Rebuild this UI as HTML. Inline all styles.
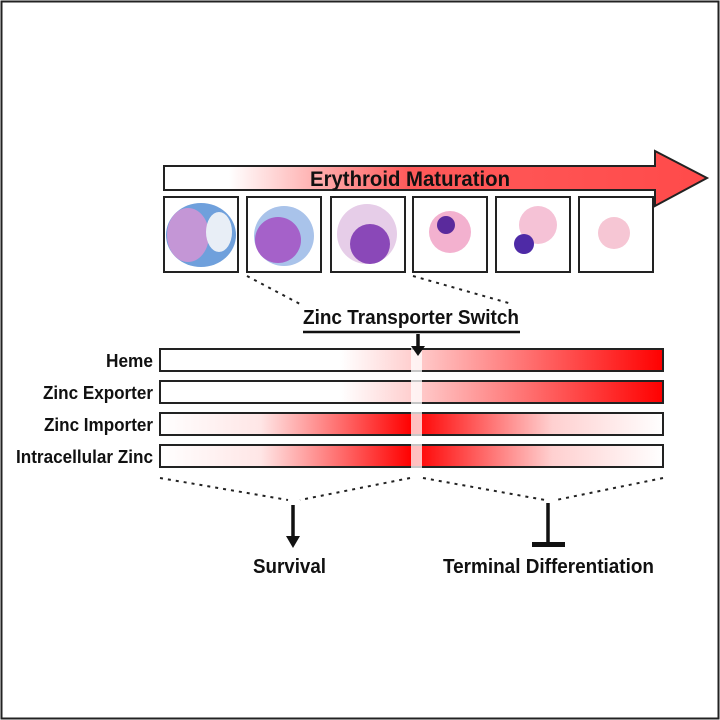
<!DOCTYPE html>
<html><head><meta charset="utf-8"><style>
html,body{margin:0;padding:0;background:#fff;}
svg{display:block;}
text{font-family:"Liberation Sans",sans-serif;font-weight:bold;fill:#111;}
</style></head><body>
<svg width="720" height="720" viewBox="0 0 720 720" xmlns="http://www.w3.org/2000/svg">
<defs>
<linearGradient id="top" x1="164" x2="707" y1="0" y2="0" gradientUnits="userSpaceOnUse">
<stop offset="0" stop-color="#fff"/><stop offset="0.12" stop-color="#fff"/><stop offset="0.45" stop-color="#ff5a5a"/><stop offset="1" stop-color="#ff4a4a"/></linearGradient>
<linearGradient id="up" x1="160" x2="663" y1="0" y2="0" gradientUnits="userSpaceOnUse">
<stop offset="0" stop-color="#fff"/><stop offset="0.36" stop-color="#fff"/><stop offset="0.52" stop-color="#ffc8c8"/><stop offset="1" stop-color="#ff0000"/></linearGradient>
<linearGradient id="mid" x1="160" x2="663" y1="0" y2="0" gradientUnits="userSpaceOnUse">
<stop offset="0" stop-color="#fff"/><stop offset="0.2" stop-color="#ffe6e6"/><stop offset="0.5" stop-color="#ff0000"/><stop offset="0.54" stop-color="#ff1a1a"/><stop offset="0.78" stop-color="#ffd0d0"/><stop offset="1" stop-color="#fff"/></linearGradient>
</defs>
<rect x="1.5" y="1.5" width="717" height="717" fill="#fff" stroke="#222" stroke-width="2"/>
<polygon points="164,166 655,166 655,151 707,178 655,206 655,190 164,190" fill="url(#top)" stroke="#222" stroke-width="2"/>
<text x="310" y="186" font-size="21" textLength="200" lengthAdjust="spacingAndGlyphs">Erythroid Maturation</text>
<g stroke="#222" stroke-width="2" fill="#fff">
<rect x="164" y="197" width="74" height="75"/><rect x="247" y="197" width="74" height="75"/><rect x="331" y="197" width="74" height="75"/>
<rect x="413" y="197" width="74" height="75"/><rect x="496" y="197" width="74" height="75"/><rect x="579" y="197" width="74" height="75"/>
</g>
<ellipse cx="201" cy="235" rx="35" ry="32" fill="#6fa0dc"/>
<ellipse cx="188" cy="235" rx="21" ry="27" fill="#c496d6"/>
<ellipse cx="219" cy="232" rx="13" ry="20" fill="#e8eef6"/>
<circle cx="284" cy="236" r="30" fill="#a9c3ea"/>
<circle cx="278" cy="240" r="23" fill="#a561c9"/>
<circle cx="367" cy="234" r="30" fill="#e6cde8"/>
<circle cx="370" cy="244" r="20" fill="#8a48b8"/>
<circle cx="450" cy="232" r="21" fill="#f3b1cf"/>
<circle cx="446" cy="225" r="9" fill="#5a2a9c"/>
<circle cx="538" cy="225" r="19" fill="#f5c2d6"/>
<circle cx="524" cy="244" r="10" fill="#4e2aa6"/>
<circle cx="614" cy="233" r="16" fill="#f6c6d4"/>
<g stroke="#222" stroke-width="2" stroke-dasharray="3,5" fill="none">
<line x1="247" y1="276" x2="300" y2="304"/>
<line x1="413" y1="276" x2="512" y2="304"/>
<line x1="160" y1="478" x2="288" y2="500"/>
<line x1="410" y1="478" x2="300" y2="500"/>
<line x1="423" y1="478" x2="545" y2="500"/>
<line x1="663" y1="478" x2="556" y2="500"/>
</g>
<text x="303" y="324" font-size="20" textLength="216" lengthAdjust="spacingAndGlyphs">Zinc Transporter Switch</text>
<line x1="303" y1="332" x2="520" y2="332" stroke="#111" stroke-width="2.5"/>
<g stroke="#222" stroke-width="2">
<rect x="160" y="349" width="503" height="22" fill="url(#up)"/>
<rect x="160" y="381" width="503" height="22" fill="url(#up)"/>
<rect x="160" y="413" width="503" height="22" fill="url(#mid)"/>
<rect x="160" y="445" width="503" height="22" fill="url(#mid)"/>
</g>
<rect x="411" y="340" width="11" height="130" fill="#fff" opacity="0.75"/>
<line x1="418" y1="334" x2="418" y2="348" stroke="#111" stroke-width="3.5"/>
<polygon points="411,346 425,346 418,356" fill="#111"/>
<g font-size="18" lengthAdjust="spacingAndGlyphs">
<text x="106" y="367" textLength="47" lengthAdjust="spacingAndGlyphs">Heme</text>
<text x="43" y="399" textLength="110" lengthAdjust="spacingAndGlyphs">Zinc Exporter</text>
<text x="44" y="431" textLength="109" lengthAdjust="spacingAndGlyphs">Zinc Importer</text>
<text x="16" y="463" textLength="137" lengthAdjust="spacingAndGlyphs">Intracellular Zinc</text>
</g>
<line x1="293" y1="505" x2="293" y2="538" stroke="#111" stroke-width="3.5"/>
<polygon points="286,536 300,536 293,548" fill="#111"/>
<line x1="548" y1="503" x2="548" y2="545" stroke="#111" stroke-width="3.5"/>
<rect x="532" y="542" width="33" height="5" fill="#111"/>
<text x="253" y="573" font-size="20" textLength="73" lengthAdjust="spacingAndGlyphs">Survival</text>
<text x="443" y="573" font-size="20" textLength="211" lengthAdjust="spacingAndGlyphs">Terminal Differentiation</text>
</svg>
</body></html>
